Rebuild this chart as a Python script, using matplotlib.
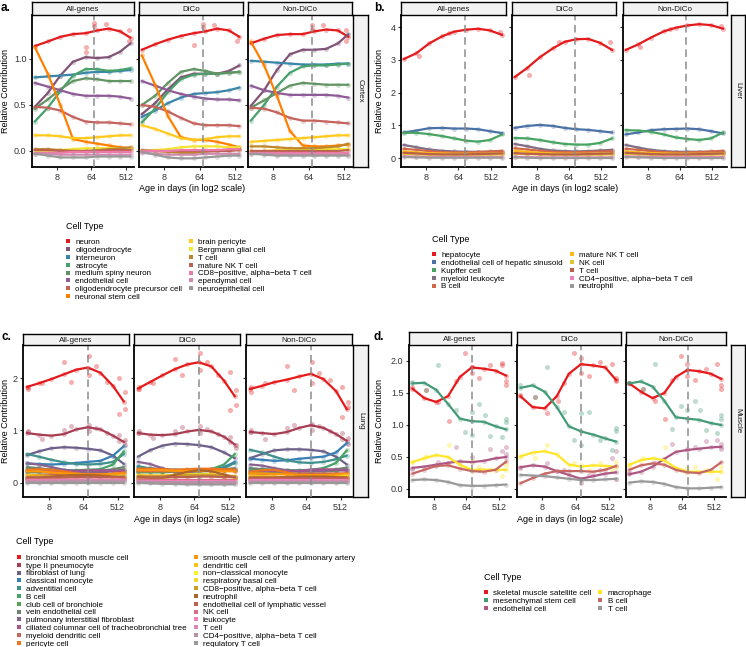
import numpy as np
import matplotlib.pyplot as plt
from matplotlib.colors import LinearSegmentedColormap
from matplotlib.lines import Line2D

plt.rcParams['font.family'] = ['Liberation Sans', 'DejaVu Sans']

W, H = 746, 647
facets = ["All-genes", "DiCo", "Non-DiCo"]
set1 = ["#E41A1C", "#377EB8", "#4DAF4A", "#984EA3", "#FF7F00",
        "#FFFF33", "#A65628", "#F781BF", "#999999"]

# ---------------- cortex ----------------
cortex_ages = [2.1, 4.6, 9.8, 21, 45, 90, 181, 362, 675]
cortex_types = ["neuron", "oligodendrocyte", "interneuron", "astrocyte",
                "medium spiny neuron", "endothelial cell",
                "oligodendrocyte precursor cell", "neuronal stem cell",
                "brain pericyte", "Bergmann glial cell", "T cell",
                "mature NK T cell", "CD8\u2212positive, alpha\u2212beta T cell",
                "ependymal cell", "neuroepithelial cell"]
cortex_allgenes = [
    [1.14, 1.19, 1.24, 1.27, 1.28, 1.31, 1.33, 1.30, 1.23],
    [0.48, 0.63, 0.82, 0.97, 1.02, 1.01, 1.02, 1.08, 1.17],
    [0.80, 0.81, 0.82, 0.83, 0.85, 0.86, 0.86, 0.87, 0.88],
    [0.32, 0.47, 0.65, 0.82, 0.89, 0.89, 0.87, 0.88, 0.90],
    [0.46, 0.56, 0.67, 0.76, 0.79, 0.78, 0.76, 0.76, 0.76],
    [0.74, 0.70, 0.66, 0.62, 0.60, 0.60, 0.60, 0.59, 0.57],
    [0.48, 0.47, 0.44, 0.37, 0.32, 0.31, 0.31, 0.30, 0.29],
    [1.13, 0.84, 0.50, 0.13, 0.10, 0.08, 0.06, 0.04, 0.03],
    [0.17, 0.17, 0.16, 0.14, 0.14, 0.15, 0.16, 0.17, 0.17],
    [-0.01, 0.00, 0.01, 0.02, 0.03, 0.03, 0.03, 0.03, 0.03],
    [0.02, 0.02, 0.01, 0.00, 0.00, 0.01, 0.02, 0.03, 0.04],
    [0.01, 0.01, 0.00, 0.00, 0.00, 0.00, 0.01, 0.01, 0.01],
    [-0.02, -0.02, -0.02, -0.01, -0.01, -0.01, -0.01, -0.01, -0.01],
    [-0.03, -0.03, -0.04, -0.04, -0.04, -0.04, -0.04, -0.04, -0.04],
    [-0.03, -0.05, -0.07, -0.07, -0.07, -0.06, -0.06, -0.06, -0.06],
]
cortex_dico = [
    [1.10, 1.16, 1.21, 1.25, 1.28, 1.30, 1.33, 1.31, 1.24],
    [0.40, 0.52, 0.67, 0.80, 0.84, 0.84, 0.84, 0.87, 0.93],
    [0.37, 0.44, 0.52, 0.58, 0.62, 0.63, 0.64, 0.66, 0.69],
    [0.31, 0.46, 0.64, 0.78, 0.83, 0.84, 0.84, 0.85, 0.86],
    [0.50, 0.60, 0.74, 0.86, 0.89, 0.87, 0.84, 0.85, 0.86],
    [0.76, 0.71, 0.66, 0.62, 0.59, 0.57, 0.56, 0.56, 0.55],
    [0.50, 0.48, 0.43, 0.36, 0.30, 0.28, 0.28, 0.28, 0.27],
    [1.04, 0.72, 0.38, 0.15, 0.12, 0.12, 0.10, 0.07, 0.04],
    [0.28, 0.24, 0.19, 0.14, 0.12, 0.13, 0.15, 0.16, 0.16],
    [0.00, 0.01, 0.02, 0.04, 0.05, 0.05, 0.05, 0.04, 0.04],
    [0.01, 0.00, -0.01, -0.02, -0.02, -0.01, 0.00, 0.01, 0.02],
    [0.00, 0.00, 0.00, 0.00, 0.00, 0.00, 0.00, 0.00, 0.01],
    [0.00, 0.00, 0.00, 0.01, 0.01, 0.01, 0.01, 0.02, 0.02],
    [-0.02, -0.03, -0.04, -0.04, -0.04, -0.03, -0.03, -0.03, -0.03],
    [-0.01, -0.04, -0.07, -0.08, -0.08, -0.07, -0.06, -0.05, -0.05],
]
cortex_nondico = [
    [1.17, 1.22, 1.26, 1.27, 1.27, 1.30, 1.32, 1.31, 1.24],
    [0.49, 0.66, 0.88, 1.05, 1.10, 1.10, 1.11, 1.17, 1.27],
    [0.98, 0.97, 0.96, 0.95, 0.94, 0.94, 0.94, 0.95, 0.95],
    [0.33, 0.50, 0.70, 0.85, 0.92, 0.93, 0.93, 0.94, 0.95],
    [0.47, 0.55, 0.63, 0.71, 0.74, 0.73, 0.72, 0.72, 0.72],
    [0.71, 0.66, 0.63, 0.61, 0.61, 0.61, 0.61, 0.60, 0.58],
    [0.47, 0.46, 0.42, 0.36, 0.33, 0.33, 0.32, 0.31, 0.30],
    [1.19, 0.93, 0.60, 0.22, 0.06, 0.05, 0.05, 0.06, 0.07],
    [0.10, 0.11, 0.12, 0.13, 0.14, 0.15, 0.16, 0.17, 0.17],
    [0.00, 0.00, 0.01, 0.01, 0.02, 0.02, 0.02, 0.02, 0.02],
    [0.05, 0.05, 0.04, 0.03, 0.03, 0.03, 0.04, 0.05, 0.08],
    [0.00, 0.00, 0.00, 0.00, 0.00, 0.00, 0.00, 0.00, 0.01],
    [-0.02, -0.02, -0.02, -0.02, -0.02, -0.02, -0.02, -0.02, -0.02],
    [-0.03, -0.03, -0.04, -0.04, -0.04, -0.04, -0.04, -0.04, -0.04],
    [-0.03, -0.04, -0.05, -0.05, -0.05, -0.05, -0.05, -0.05, -0.05],
]
# single replicate points that sit off the smooth curves (type index: ages, values)
cortex_pts_allgenes = {0: ([76, 76, 45, 45, 150, 600, 600],
                           [1.39, 1.36, 1.13, 1.08, 1.38, 1.31, 1.19])}
cortex_pts_dico = {0: ([76, 76, 45, 150, 600],
                       [1.38, 1.35, 1.15, 1.37, 1.19])}
cortex_pts_nondico = {0: ([76, 76, 150, 600, 600],
                          [1.37, 1.33, 1.37, 1.31, 1.20])}

# ---------------- liver ----------------
liver_ages = [1.9, 4.3, 9.8, 22.6, 48.5, 104, 223, 478, 1060]
liver_types = ["hepatocyte", "endothelial cell of hepatic sinusoid",
               "Kupffer cell", "myeloid leukocyte", "B cell",
               "mature NK T cell", "NK cell", "T cell",
               "CD4\u2212positive, alpha\u2212beta T cell", "neutrophil"]
liver_allgenes = [
    [3.02, 3.20, 3.50, 3.72, 3.86, 3.92, 3.95, 3.90, 3.76],
    [0.78, 0.84, 0.91, 0.92, 0.90, 0.90, 0.88, 0.82, 0.76],
    [0.77, 0.77, 0.73, 0.67, 0.60, 0.53, 0.50, 0.55, 0.72],
    [0.40, 0.33, 0.26, 0.22, 0.20, 0.19, 0.19, 0.19, 0.19],
    [0.28, 0.25, 0.21, 0.18, 0.17, 0.17, 0.18, 0.20, 0.22],
    [0.20, 0.17, 0.15, 0.14, 0.13, 0.13, 0.13, 0.14, 0.15],
    [0.12, 0.11, 0.10, 0.10, 0.10, 0.10, 0.10, 0.10, 0.11],
    [0.16, 0.14, 0.12, 0.11, 0.11, 0.11, 0.12, 0.13, 0.14],
    [0.05, 0.04, 0.03, 0.03, 0.03, 0.03, 0.03, 0.03, 0.03],
    [0.03, 0.02, 0.01, 0.01, 0.01, 0.01, 0.01, 0.01, 0.01],
]
liver_dico = [
    [2.47, 2.75, 3.08, 3.35, 3.55, 3.63, 3.64, 3.52, 3.30],
    [0.92, 0.98, 1.01, 0.98, 0.92, 0.88, 0.86, 0.82, 0.78],
    [0.61, 0.60, 0.55, 0.48, 0.43, 0.41, 0.41, 0.46, 0.60],
    [0.43, 0.36, 0.28, 0.23, 0.21, 0.20, 0.21, 0.23, 0.25],
    [0.30, 0.26, 0.22, 0.19, 0.18, 0.18, 0.19, 0.20, 0.21],
    [0.22, 0.19, 0.16, 0.14, 0.13, 0.13, 0.13, 0.14, 0.14],
    [0.13, 0.12, 0.11, 0.10, 0.10, 0.10, 0.10, 0.10, 0.11],
    [0.15, 0.13, 0.12, 0.11, 0.11, 0.11, 0.12, 0.13, 0.14],
    [0.04, 0.03, 0.02, 0.02, 0.02, 0.02, 0.02, 0.02, 0.02],
    [0.02, 0.01, 0.00, 0.00, 0.00, 0.00, 0.00, 0.00, 0.00],
]
liver_nondico = [
    [3.30, 3.47, 3.68, 3.87, 3.98, 4.05, 4.09, 4.06, 3.95],
    [0.72, 0.78, 0.85, 0.88, 0.89, 0.90, 0.88, 0.82, 0.75],
    [0.85, 0.84, 0.80, 0.72, 0.63, 0.58, 0.55, 0.60, 0.78],
    [0.40, 0.32, 0.25, 0.21, 0.19, 0.19, 0.19, 0.19, 0.19],
    [0.28, 0.25, 0.21, 0.18, 0.17, 0.17, 0.18, 0.20, 0.22],
    [0.20, 0.17, 0.15, 0.14, 0.13, 0.13, 0.13, 0.14, 0.15],
    [0.12, 0.11, 0.10, 0.10, 0.10, 0.10, 0.10, 0.10, 0.11],
    [0.16, 0.14, 0.12, 0.11, 0.11, 0.11, 0.12, 0.13, 0.14],
    [0.05, 0.04, 0.03, 0.03, 0.03, 0.03, 0.03, 0.03, 0.03],
    [0.03, 0.02, 0.01, 0.00, 0.00, 0.00, 0.00, 0.00, 0.00],
]
liver_pts_allgenes = {0: ([5, 34, 900], [3.12, 3.83, 3.84])}
liver_pts_dico = {0: ([5, 34, 900], [2.55, 3.55, 3.55])}
liver_pts_nondico = {0: ([5, 34, 900], [3.38, 3.93, 4.02])}

# ---------------- lung ----------------
lung_ages = [2.1, 4.3, 9.2, 19.7, 42, 84, 181, 388, 750]
lung_types = ["bronchial smooth muscle cell", "type II pneumocyte",
              "fibroblast of lung", "classical monocyte", "adventitial cell",
              "B cell", "club cell of bronchiole", "vein endothelial cell",
              "pulmonary interstitial fibroblast",
              "ciliated columnar cell of tracheobronchial tree",
              "myeloid dendritic cell", "pericyte cell",
              "smooth muscle cell of the pulmonary artery", "dendritic cell",
              "non\u2212classical monocyte", "respiratory basal cell",
              "CD8\u2212positive, alpha\u2212beta T cell", "neutrophil",
              "endothelial cell of lymphatic vessel", "NK cell", "leukocyte",
              "T cell", "CD4\u2212positive, alpha\u2212beta T cell",
              "regulatory T cell"]
lung_allgenes = [
    [1.83, 1.90, 1.98, 2.07, 2.16, 2.20, 2.10, 1.85, 1.55],
    [0.95, 0.92, 0.90, 0.93, 1.02, 1.06, 1.02, 0.90, 0.78],
    [0.53, 0.60, 0.66, 0.68, 0.67, 0.65, 0.62, 0.52, 0.36],
    [0.37, 0.36, 0.35, 0.36, 0.38, 0.40, 0.42, 0.52, 0.70],
    [0.55, 0.50, 0.44, 0.39, 0.36, 0.35, 0.36, 0.40, 0.55],
    [0.26, 0.26, 0.25, 0.24, 0.24, 0.25, 0.26, 0.35, 0.60],
    [0.20, 0.20, 0.20, 0.21, 0.22, 0.22, 0.22, 0.23, 0.25],
    [0.30, 0.28, 0.25, 0.23, 0.22, 0.22, 0.23, 0.26, 0.30],
    [0.37, 0.35, 0.30, 0.25, 0.22, 0.20, 0.20, 0.22, 0.25],
    [0.22, 0.22, 0.22, 0.22, 0.23, 0.24, 0.24, 0.23, 0.22],
    [0.15, 0.15, 0.16, 0.17, 0.17, 0.17, 0.17, 0.17, 0.18],
    [0.25, 0.26, 0.25, 0.22, 0.18, 0.15, 0.15, 0.17, 0.20],
    [0.22, 0.22, 0.20, 0.18, 0.17, 0.16, 0.16, 0.17, 0.18],
    [0.15, 0.14, 0.13, 0.12, 0.12, 0.12, 0.12, 0.13, 0.14],
    [0.10, 0.10, 0.10, 0.10, 0.11, 0.12, 0.12, 0.12, 0.12],
    [0.08, 0.08, 0.09, 0.10, 0.11, 0.11, 0.11, 0.10, 0.10],
    [0.12, 0.12, 0.12, 0.12, 0.12, 0.12, 0.12, 0.12, 0.13],
    [0.10, 0.10, 0.12, 0.14, 0.15, 0.15, 0.14, 0.12, 0.10],
    [0.10, 0.10, 0.10, 0.10, 0.11, 0.11, 0.11, 0.11, 0.11],
    [0.06, 0.06, 0.06, 0.06, 0.06, 0.06, 0.06, 0.06, 0.07],
    [0.05, 0.05, 0.05, 0.06, 0.06, 0.06, 0.06, 0.06, 0.06],
    [0.04, 0.04, 0.04, 0.05, 0.05, 0.05, 0.05, 0.05, 0.05],
    [0.02, 0.02, 0.02, 0.03, 0.03, 0.03, 0.03, 0.03, 0.03],
    [0.00, 0.00, 0.00, 0.00, 0.00, 0.00, 0.00, 0.00, 0.00],
]
lung_dico = [
    [1.80, 1.92, 2.05, 2.17, 2.26, 2.30, 2.22, 1.95, 1.65],
    [0.95, 0.92, 0.91, 0.93, 0.98, 1.01, 0.98, 0.88, 0.73],
    [0.50, 0.62, 0.71, 0.75, 0.74, 0.72, 0.68, 0.58, 0.47],
    [0.30, 0.28, 0.26, 0.25, 0.25, 0.25, 0.26, 0.30, 0.40],
    [0.32, 0.27, 0.22, 0.21, 0.22, 0.23, 0.24, 0.28, 0.38],
    [0.22, 0.22, 0.22, 0.23, 0.24, 0.25, 0.26, 0.35, 0.55],
    [0.20, 0.20, 0.20, 0.21, 0.22, 0.22, 0.23, 0.24, 0.25],
    [0.27, 0.25, 0.23, 0.22, 0.22, 0.23, 0.24, 0.26, 0.28],
    [0.40, 0.36, 0.28, 0.22, 0.21, 0.22, 0.23, 0.24, 0.25],
    [0.23, 0.23, 0.23, 0.23, 0.24, 0.25, 0.25, 0.24, 0.23],
    [0.22, 0.22, 0.22, 0.22, 0.23, 0.24, 0.25, 0.25, 0.25],
    [0.27, 0.27, 0.26, 0.25, 0.26, 0.27, 0.27, 0.26, 0.25],
    [0.24, 0.24, 0.24, 0.23, 0.23, 0.23, 0.22, 0.22, 0.22],
    [0.15, 0.14, 0.14, 0.15, 0.16, 0.17, 0.16, 0.14, 0.12],
    [0.10, 0.09, 0.09, 0.12, 0.15, 0.16, 0.15, 0.12, 0.10],
    [0.08, 0.08, 0.09, 0.13, 0.16, 0.17, 0.16, 0.13, 0.10],
    [0.13, 0.13, 0.13, 0.14, 0.15, 0.15, 0.15, 0.14, 0.13],
    [0.12, 0.10, 0.10, 0.15, 0.21, 0.24, 0.22, 0.16, 0.10],
    [0.10, 0.10, 0.10, 0.11, 0.11, 0.12, 0.12, 0.11, 0.11],
    [0.05, 0.05, 0.05, 0.05, 0.05, 0.05, 0.05, 0.05, 0.05],
    [0.04, 0.04, 0.04, 0.04, 0.04, 0.04, 0.04, 0.04, 0.04],
    [0.03, 0.02, 0.01, 0.00, -0.01, -0.02, -0.02, -0.02, -0.01],
    [0.02, 0.02, 0.02, 0.02, 0.02, 0.02, 0.02, 0.02, 0.02],
    [0.00, -0.01, -0.02, -0.02, -0.03, -0.03, -0.03, -0.03, -0.03],
]
lung_nondico = [
    [1.79, 1.85, 1.92, 1.97, 2.03, 2.08, 1.98, 1.75, 1.40],
    [0.97, 0.95, 0.93, 0.97, 1.05, 1.10, 1.05, 0.93, 0.80],
    [0.47, 0.55, 0.62, 0.64, 0.64, 0.63, 0.60, 0.50, 0.35],
    [0.46, 0.44, 0.42, 0.43, 0.46, 0.48, 0.50, 0.58, 0.76],
    [0.63, 0.58, 0.50, 0.43, 0.39, 0.38, 0.40, 0.45, 0.52],
    [0.27, 0.26, 0.25, 0.24, 0.24, 0.25, 0.28, 0.38, 0.62],
    [0.20, 0.20, 0.20, 0.21, 0.22, 0.22, 0.22, 0.23, 0.25],
    [0.28, 0.26, 0.24, 0.23, 0.23, 0.23, 0.24, 0.26, 0.29],
    [0.35, 0.33, 0.28, 0.24, 0.22, 0.22, 0.23, 0.24, 0.25],
    [0.22, 0.22, 0.22, 0.22, 0.23, 0.25, 0.26, 0.25, 0.23],
    [0.16, 0.16, 0.17, 0.17, 0.18, 0.18, 0.18, 0.18, 0.18],
    [0.21, 0.24, 0.25, 0.20, 0.15, 0.13, 0.13, 0.14, 0.18],
    [0.18, 0.18, 0.17, 0.16, 0.15, 0.15, 0.15, 0.16, 0.17],
    [0.14, 0.13, 0.12, 0.11, 0.11, 0.11, 0.11, 0.12, 0.15],
    [0.10, 0.10, 0.10, 0.10, 0.10, 0.10, 0.10, 0.11, 0.12],
    [0.08, 0.08, 0.08, 0.09, 0.09, 0.09, 0.09, 0.09, 0.10],
    [0.12, 0.12, 0.12, 0.12, 0.12, 0.12, 0.12, 0.12, 0.12],
    [0.10, 0.10, 0.10, 0.11, 0.12, 0.12, 0.12, 0.11, 0.10],
    [0.10, 0.10, 0.10, 0.10, 0.10, 0.10, 0.10, 0.10, 0.10],
    [0.06, 0.06, 0.06, 0.06, 0.06, 0.06, 0.06, 0.06, 0.06],
    [0.05, 0.05, 0.05, 0.05, 0.05, 0.05, 0.05, 0.05, 0.05],
    [0.04, 0.04, 0.04, 0.04, 0.04, 0.04, 0.04, 0.04, 0.04],
    [0.02, 0.02, 0.02, 0.02, 0.02, 0.02, 0.02, 0.02, 0.02],
    [0.00, 0.00, 0.00, 0.00, 0.00, 0.00, 0.00, 0.00, 0.00],
]
lung_pt_ages = [2.2, 2.2, 5.3, 20, 31, 88, 88, 137, 270, 560, 560, 790, 790]
lung_pts_allgenes = {
    0: (lung_pt_ages, [1.83, 1.80, 1.91, 2.31, 1.93, 2.42, 2.06, 2.23, 1.93,
                       2.00, 1.31, 1.74, 1.40]),
    1: (lung_pt_ages, [0.99, 0.97, 0.84, 1.01, 1.08, 1.10, 0.98, 1.04, 0.95,
                       0.92, 0.80, 0.82, 0.72]),
}
lung_pts_dico = {
    0: (lung_pt_ages, [1.82, 1.80, 1.90, 2.37, 2.06, 2.47, 2.15, 2.31, 2.06,
                       2.12, 1.39, 1.77, 1.49]),
    1: (lung_pt_ages, [0.98, 0.95, 0.86, 0.99, 1.07, 1.09, 0.95, 1.02, 0.93,
                       0.88, 0.78, 0.72, 0.66]),
}
lung_pts_nondico = {
    0: (lung_pt_ages, [1.83, 1.74, 1.90, 2.22, 1.77, 2.31, 1.90, 2.09, 1.96,
                       1.83, 1.26, 1.55, 1.45]),
    1: (lung_pt_ages, [1.01, 0.97, 0.84, 1.04, 1.10, 1.13, 1.00, 1.08, 0.98,
                       0.95, 0.83, 0.85, 0.75]),
}

# ---------------- muscle ----------------
muscle_ages = [2.0, 4.3, 9.2, 19.7, 42, 90, 194, 416, 832]
muscle_types = ["skeletal muscle satellite cell", "mesenchymal stem cell",
                "endothelial cell", "macrophage", "B cell", "T cell"]
muscle_allgenes = [
    [1.57, 1.42, 1.36, 1.45, 1.75, 1.90, 1.88, 1.85, 1.77],
    [1.65, 1.66, 1.55, 1.33, 1.10, 1.06, 1.05, 0.98, 0.93],
    [0.33, 0.35, 0.38, 0.41, 0.43, 0.42, 0.44, 0.48, 0.50],
    [0.42, 0.48, 0.53, 0.50, 0.38, 0.30, 0.30, 0.30, 0.30],
    [0.24, 0.30, 0.36, 0.37, 0.32, 0.28, 0.27, 0.30, 0.43],
    [0.14, 0.15, 0.14, 0.11, 0.06, 0.05, 0.05, 0.06, 0.07],
]
muscle_dico = [
    [1.45, 1.28, 1.26, 1.45, 1.80, 1.95, 1.93, 1.90, 1.70],
    [1.58, 1.62, 1.52, 1.28, 0.98, 0.90, 0.85, 0.79, 0.74],
    [0.34, 0.37, 0.35, 0.28, 0.22, 0.16, 0.20, 0.24, 0.26],
    [0.51, 0.57, 0.59, 0.54, 0.38, 0.35, 0.37, 0.36, 0.35],
    [0.09, 0.17, 0.24, 0.28, 0.28, 0.28, 0.27, 0.30, 0.36],
    [0.22, 0.21, 0.20, 0.18, 0.16, 0.14, 0.14, 0.15, 0.16],
]
muscle_nondico = [
    [1.65, 1.52, 1.42, 1.50, 1.75, 1.86, 1.84, 1.80, 1.72],
    [1.65, 1.68, 1.60, 1.38, 1.12, 1.10, 1.08, 1.03, 1.00],
    [0.23, 0.27, 0.35, 0.47, 0.58, 0.61, 0.63, 0.65, 0.66],
    [0.38, 0.45, 0.48, 0.45, 0.33, 0.27, 0.27, 0.27, 0.27],
    [0.30, 0.37, 0.40, 0.38, 0.30, 0.26, 0.25, 0.30, 0.42],
    [0.10, 0.12, 0.11, 0.08, 0.03, 0.01, 0.01, 0.02, 0.03],
]
muscle_pts_allgenes = {
    0: ([2.0, 4.9, 10.6, 21, 32, 60, 90, 90, 147, 294, 630, 630, 832, 832],
        [1.59, 1.55, 1.36, 1.07, 1.69, 2.12, 1.90, 1.81, 1.74, 1.93, 1.97,
         1.93, 1.68, 1.62]),
    1: ([2.0, 4.9, 10.6, 32, 60, 90, 90, 147, 210, 294, 630, 832, 832],
        [1.67, 1.55, 1.94, 1.23, 0.89, 1.21, 0.84, 1.33, 1.16, 0.83, 0.82,
         1.10, 1.05]),
    2: ([2.0, 10.6, 32, 90, 147, 294, 630, 832, 832],
        [0.32, 0.42, 0.66, 0.50, 0.30, 0.63, 0.60, 0.65, 0.55]),
    3: ([2.0, 4.9, 21, 60, 90, 147, 294, 630, 832],
        [0.42, 0.51, 0.69, 0.33, 0.43, 0.35, 0.30, 0.20, 0.38]),
}
muscle_pts_dico = {
    0: ([2.0, 4.9, 10.6, 21, 32, 60, 90, 90, 147, 294, 630, 832, 832],
        [1.47, 1.44, 1.19, 1.38, 1.66, 2.12, 2.04, 1.81, 1.76, 1.98, 1.96,
         1.73, 1.68]),
    1: ([2.0, 4.9, 10.6, 32, 60, 90, 90, 147, 294, 630, 832, 832],
        [1.63, 1.44, 1.90, 1.21, 0.77, 1.19, 0.69, 1.21, 0.77, 0.61, 0.95,
         0.90]),
    2: ([2.0, 10.6, 32, 90, 147, 294, 630, 832, 832],
        [0.33, 0.40, 0.30, 0.10, 0.22, 0.30, 0.48, 0.60, 0.15]),
    3: ([2.0, 4.9, 10.6, 60, 90, 147, 294, 630, 832],
        [0.50, 0.48, 0.68, 0.40, 0.38, 0.30, 0.40, 0.30, 0.42]),
}
muscle_pts_nondico = {
    0: ([2.0, 4.9, 10.6, 21, 32, 60, 90, 90, 147, 294, 630, 832, 832],
        [1.65, 1.57, 1.38, 1.09, 1.71, 2.08, 1.96, 1.76, 1.71, 1.87, 1.96,
         1.62, 1.57]),
    1: ([2.0, 4.9, 10.6, 32, 60, 90, 147, 210, 294, 630, 832, 832],
        [1.66, 1.57, 1.95, 0.93, 1.29, 1.24, 1.38, 1.24, 0.92, 0.87, 1.16,
         1.10]),
    2: ([2.0, 10.6, 32, 90, 147, 294, 630, 832, 832],
        [0.25, 0.40, 0.70, 0.62, 0.65, 0.75, 0.77, 0.70, 0.62]),
    3: ([2.0, 4.9, 21, 60, 90, 147, 294, 630, 832],
        [0.37, 0.48, 0.65, 0.30, 0.33, 0.35, 0.30, 0.15, 0.35]),
}


def box(x0, y0, x1, y1):
    # pixel box (top-left origin) -> figure fraction
    return [x0 / W, 1 - y1 / H, (x1 - x0) / W, (y1 - y0) / H]


def ramp(n):
    cmap = LinearSegmentedColormap.from_list("set1", set1, N=1024)
    return [cmap(i / (n - 1)) for i in range(n)]


fig = plt.figure(figsize=(W / 100, H / 100), dpi=100)

blocks = [
    dict(tag="a.", tissue="Cortex", types=cortex_types, ages=cortex_ages,
         data=[cortex_allgenes, cortex_dico, cortex_nondico],
         pts=[cortex_pts_allgenes, cortex_pts_dico, cortex_pts_nondico],
         xs=[(32, 134), (139, 243), (248, 352)], strip=(2, 15), plot=(15, 167),
         rstrip=(353, 368), xl=(0.83, 9.7), ylim=(-0.174, 1.478),
         yt=[0, 0.5, 1.0], ytl=["0.0", "0.5", "1.0"], vline=76, lab=(1, 8),
         ylab=(6, 91), xlab=(192, 188), leg=(65.5, 222)),
    dict(tag="b.", tissue="Liver", types=liver_types, ages=liver_ages,
         data=[liver_allgenes, liver_dico, liver_nondico],
         pts=[liver_pts_allgenes, liver_pts_dico, liver_pts_nondico],
         xs=[(401, 506), (512, 616), (623, 727)], strip=(2, 15), plot=(15, 167),
         rstrip=(731, 745), xl=(0.69, 10.4), ylim=(-0.275, 4.37),
         yt=[0, 1, 2, 3, 4], ytl=["0", "1", "2", "3", "4"], vline=97,
         lab=(374, 8), ylab=(380, 91), xlab=(565, 188), leg=(431.5, 235)),
    dict(tag="c.", tissue="Lung", types=lung_types, ages=lung_ages,
         data=[lung_allgenes, lung_dico, lung_nondico],
         pts=[lung_pts_allgenes, lung_pts_dico, lung_pts_nondico],
         xs=[(23, 129), (134, 240), (246, 352)], strip=(334, 345),
         plot=(345, 497), rstrip=(353, 368), xl=(0.72, 10.0),
         ylim=(-0.27, 2.63), yt=[0, 1, 2], ytl=["0", "1", "2"], vline=86,
         lab=(1, 337), ylab=(6, 421), xlab=(187, 519), leg=(16.5, 537.5)),
    dict(tag="d.", tissue="Muscle", types=muscle_types, ages=muscle_ages,
         data=[muscle_allgenes, muscle_dico, muscle_nondico],
         pts=[muscle_pts_allgenes, muscle_pts_dico, muscle_pts_nondico],
         xs=[(409, 511), (517, 621), (626, 726)], strip=(332, 345),
         plot=(345, 497), rstrip=(731, 745), xl=(0.69, 10.13),
         ylim=(-0.125, 2.25), yt=[0, 0.5, 1.0, 1.5, 2.0],
         ytl=["0.0", "0.5", "1.0", "1.5", "2.0"], vline=92, lab=(374, 337),
         ylab=(380, 421), xlab=(570, 519), leg=(483.5, 573)),
]

for b in blocks:
    cols = ramp(len(b["types"]))
    y0, y1 = b["plot"]
    for k, (x0, x1) in enumerate(b["xs"]):
        ax = fig.add_axes(box(x0, y0, x1, y1))
        ax.set_xscale("log", base=2)
        ax.set_xlim(2 ** b["xl"][0], 2 ** b["xl"][1])
        ax.set_ylim(*b["ylim"])
        for i, (vals, c) in enumerate(zip(b["data"][k], cols)):
            ax.scatter(b["ages"], vals, s=13, color=c, alpha=0.3, lw=0, zorder=2)
            if i in b["pts"][k]:
                px, py = b["pts"][k][i]
                ax.scatter(px, py, s=13, color=c, alpha=0.35, lw=0, zorder=2)
            ax.plot(b["ages"], vals, color=c, lw=1.6, solid_capstyle="round",
                    solid_joinstyle="round", zorder=3)
        ax.axvline(b["vline"], color="#8c8c8c", ls=(0, (5, 3)), lw=1.1, zorder=4)
        ax.set_xticks([8, 64, 512])
        ax.set_xticklabels(["8", "64", "512"])
        ax.minorticks_off()
        ax.set_yticks(b["yt"])
        if k == 0:
            ax.set_yticklabels(b["ytl"])
        else:
            ax.set_yticklabels([])
        ax.tick_params(labelsize=6.5, length=2.5, width=0.8, pad=1.5,
                       colors="#333333", labelcolor="#333333")
        for s in ["top", "right"]:
            ax.spines[s].set_visible(False)
        for s in ["left", "bottom"]:
            ax.spines[s].set_linewidth(1.3)
            ax.spines[s].set_color("black")
        # facet strip
        st = fig.add_axes(box(x0, b["strip"][0], x1, b["strip"][1]))
        st.set_facecolor("#F2F2F2")
        st.set_xticks([])
        st.set_yticks([])
        for s in st.spines.values():
            s.set_linewidth(1.0)
        st.text(0.5, 0.45, facets[k], ha="center", va="center", fontsize=5.8,
                color="#1a1a1a", transform=st.transAxes)
    # tissue strip on the right
    rs = fig.add_axes(box(b["rstrip"][0], y0, b["rstrip"][1], y1))
    rs.set_facecolor("#F2F2F2")
    rs.set_xticks([])
    rs.set_yticks([])
    for s in rs.spines.values():
        s.set_linewidth(1.0)
    rs.text(0.5, 0.5, b["tissue"], rotation=-90, ha="center", va="center",
            fontsize=5.8, color="#1a1a1a", transform=rs.transAxes)

    fig.text(b["lab"][0] / W, 1 - b["lab"][1] / H, b["tag"], fontsize=8.5,
             fontweight="bold", va="center", ha="left")
    fig.text(b["ylab"][0] / W, 1 - b["ylab"][1] / H, "Relative Contribution",
             rotation=90, fontsize=6.5, ha="center", va="center")
    fig.text(b["xlab"][0] / W, 1 - b["xlab"][1] / H,
             "Age in days (in log2 scale)", fontsize=6.5, ha="center",
             va="center")

    handles = [Line2D([], [], ls="", marker="s", ms=2.2, color=c, mew=0)
               for c in cols]
    leg = fig.legend(handles, b["types"], loc="upper left",
                     bbox_to_anchor=(b["leg"][0] / W, 1 - b["leg"][1] / H),
                     ncol=2, frameon=False, fontsize=5.8, title="Cell Type",
                     title_fontsize=6.5, alignment="left", handlelength=0.6,
                     handletextpad=0.6, labelspacing=0.02, columnspacing=0.8,
                     borderpad=0, borderaxespad=0)
    leg._legend_box.sep = 5.5

fig.savefig("out.png", dpi=100)
